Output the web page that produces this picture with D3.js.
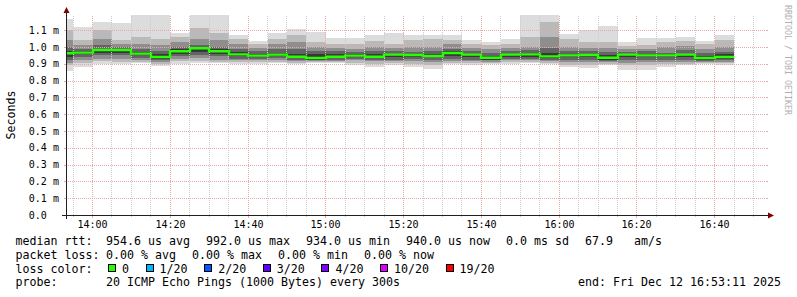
<!DOCTYPE html>
<html>
<head>
<meta charset="utf-8">
<script src="https://cdn.jsdelivr.net/npm/d3@7"></script>
<style>
    body { margin: 0; background: #ffffff; }
    svg { display: block; font-family: "DejaVu Sans Mono", monospace; font-size: 11.63px; }
</style>
</head>
<body>
<svg id="smoke"></svg>
<script>
// time frame of the graph, one value every 5 minutes
let startTime = new Date(2025, 11, 12, 13, 53, 11);
let endTime = new Date(2025, 11, 12, 16, 53, 11);
let firstStepEnd = new Date(2025, 11, 12, 13, 55, 0);
let stepMinutes = 5;

// median rtt per step (ms)
let medianRtt = [0.962, 0.966, 0.982, 0.982, 0.960, 0.940, 0.974, 0.992, 0.974, 0.956, 0.948, 0.954,
    0.942, 0.934, 0.942, 0.948, 0.942, 0.954, 0.952, 0.946, 0.964, 0.954, 0.936, 0.954,
    0.956, 0.944, 0.950, 0.952, 0.936, 0.954, 0.950, 0.950, 0.954, 0.934, 0.940];

// sorted pings per step (ms), lowest to highest
let ping1 = [0.857, 0.879, 0.899, 0.897, 0.903, 0.887, 0.897, 0.903, 0.903, 0.897, 0.897, 0.903,
    0.897, 0.903, 0.903, 0.891, 0.883, 0.895, 0.883, 0.871, 0.897, 0.891, 0.897, 0.897,
    0.903, 0.897, 0.879, 0.875, 0.891, 0.863, 0.863, 0.883, 0.891, 0.897, 0.891];
let ping3 = [0.893, 0.905, 0.915, 0.910, 0.910, 0.900, 0.915, 0.915, 0.910, 0.910, 0.910, 0.910,
    0.905, 0.910, 0.910, 0.905, 0.900, 0.905, 0.900, 0.895, 0.905, 0.905, 0.905, 0.910,
    0.910, 0.905, 0.895, 0.895, 0.900, 0.890, 0.895, 0.900, 0.900, 0.905, 0.905];
let ping5 = [0.905, 0.925, 0.930, 0.930, 0.920, 0.910, 0.930, 0.935, 0.925, 0.920, 0.920, 0.925,
    0.915, 0.915, 0.915, 0.920, 0.915, 0.915, 0.915, 0.910, 0.915, 0.915, 0.912, 0.920,
    0.920, 0.915, 0.910, 0.910, 0.910, 0.905, 0.910, 0.910, 0.910, 0.912, 0.912];
let ping7 = [0.923, 0.940, 0.950, 0.950, 0.935, 0.920, 0.945, 0.950, 0.945, 0.930, 0.930, 0.935,
    0.925, 0.920, 0.925, 0.930, 0.925, 0.925, 0.930, 0.925, 0.930, 0.925, 0.920, 0.930,
    0.930, 0.925, 0.925, 0.925, 0.915, 0.925, 0.925, 0.925, 0.925, 0.918, 0.920];
let ping9 = [0.940, 0.955, 0.965, 0.965, 0.950, 0.930, 0.960, 0.970, 0.960, 0.945, 0.940, 0.945,
    0.935, 0.925, 0.935, 0.940, 0.935, 0.940, 0.940, 0.940, 0.945, 0.940, 0.925, 0.940,
    0.940, 0.935, 0.940, 0.940, 0.925, 0.940, 0.940, 0.940, 0.940, 0.925, 0.930];
let ping12 = [0.976, 0.975, 0.990, 0.990, 0.970, 0.955, 0.985, 0.998, 0.985, 0.970, 0.960, 0.965,
    0.960, 0.955, 0.955, 0.955, 0.955, 0.960, 0.960, 0.955, 0.975, 0.960, 0.945, 0.960,
    0.965, 0.965, 0.960, 0.960, 0.950, 0.960, 0.960, 0.955, 0.960, 0.945, 0.955];
let ping14 = [1.000, 0.990, 1.010, 1.000, 0.990, 0.975, 1.000, 1.010, 1.000, 0.990, 0.975, 0.990,
    0.990, 0.975, 0.975, 0.970, 0.975, 0.975, 0.970, 0.975, 0.990, 0.975, 0.965, 0.975,
    0.980, 0.995, 0.975, 0.975, 0.970, 0.970, 0.975, 0.965, 0.980, 0.965, 0.970];
let ping16 = [1.040, 1.010, 1.050, 1.015, 1.020, 1.010, 1.030, 1.050, 1.040, 1.020, 0.995, 1.020,
    1.030, 1.000, 0.995, 0.990, 1.000, 0.995, 1.000, 1.000, 1.020, 0.995, 0.990, 0.995,
    1.000, 1.060, 1.000, 0.995, 0.995, 0.985, 0.990, 1.000, 1.005, 0.990, 1.000];
let ping18 = [1.100, 1.040, 1.100, 1.040, 1.060, 1.050, 1.060, 1.110, 1.080, 1.045, 1.015, 1.050,
    1.070, 1.030, 1.020, 1.020, 1.035, 1.020, 1.040, 1.050, 1.040, 1.020, 1.010, 1.020,
    1.060, 1.150, 1.050, 1.030, 1.030, 1.005, 1.010, 1.030, 1.035, 1.015, 1.040];
let ping20 = [1.165, 1.121, 1.149, 1.143, 1.190, 1.190, 1.085, 1.190, 1.190, 1.073, 1.036, 1.085,
    1.107, 1.087, 1.056, 1.056, 1.073, 1.081, 1.071, 1.069, 1.073, 1.042, 1.032, 1.050,
    1.190, 1.190, 1.077, 1.101, 1.125, 1.030, 1.054, 1.054, 1.060, 1.036, 1.071];

let yTicks = [0, 0.1, 0.2, 0.3, 0.4, 0.5, 0.6, 0.7, 0.8, 0.9, 1.0, 1.1];

let rttStats = ["954.6 us avg", "992.0 us max", "934.0 us min", "940.0 us now", "0.0 ms sd", "67.9   am/s"];
let lossStats = ["0.00 % avg", "0.00 % max", "0.00 % min", "0.00 % now"];
let lossLabels = ["0", "1/20", "2/20", "3/20", "4/20", "10/20", "19/20"];
let lossColors = ["#26ff00", "#00b8ff", "#0059ff", "#5e00ff", "#7e00ff", "#dd00ff", "#ff0000"];
let probeText = "20 ICMP Echo Pings (1000 Bytes) every 300s";
let endText = "end: Fri Dec 12 16:53:11 2025";

let W = 797, H = 297;
let X0 = 66, Y0 = 215, xsize = 700, ysize = 200;
let yMax = 1.19;
let cw = 7.0; // legend char width

let gridColor = "#cccccc";
let mgridColor = "#eaa9a9";
let arrowColor = "#7f0000";
let axisColor = "#202020";

let svg = d3.select("#smoke").attr("width", W).attr("height", H);
svg.append("rect").attr("width", W).attr("height", H).attr("fill", "#ffffff");

let x = d3.scaleTime().domain([startTime, endTime]).range([X0, X0 + xsize]);
let y = d3.scaleLinear().domain([0, yMax]).range([Y0, Y0 - ysize]);

function stepEnd(i) {
    return d3.timeMinute.offset(firstStepEnd, i * stepMinutes);
}

function stepStart(i) {
    return d3.timeMinute.offset(firstStepEnd, (i - 1) * stepMinutes);
}

drawSmoke();
drawGrid();
drawMedian();
drawAxes();
drawLegend();

function drawSmoke() {
    svg.append("clipPath").attr("id", "plotclip")
        .append("rect")
        .attr("x", X0).attr("y", Y0 - ysize)
        .attr("width", xsize).attr("height", ysize);

    // outer pair first, darker towards the median
    let layers = [
        [ping1, ping20, "#dcdcdc"],
        [ping3, ping18, "#b9b9b9"],
        [ping5, ping16, "#8e8e8e"],
        [ping7, ping14, "#646464"],
        [ping9, ping12, "#383838"]
    ];
    let g = svg.append("g").attr("clip-path", "url(#plotclip)");
    layers.forEach(function (layer) {
        let lo = layer[0], hi = layer[1];
        g.append("g").selectAll("rect")
            .data(medianRtt.map(function (d, i) { return i; }))
            .enter()
            .append("rect")
            .attr("x", function (i) { return Math.round(x(stepStart(i))); })
            .attr("width", function (i) { return Math.round(x(stepEnd(i))) - Math.round(x(stepStart(i))); })
            .attr("y", function (i) { return Math.round(y(Math.min(hi[i], yMax))); })
            .attr("height", function (i) { return Math.round(y(lo[i])) - Math.round(y(Math.min(hi[i], yMax))); })
            .attr("fill", layer[2])
            .attr("shape-rendering", "crispEdges");
    });
}

function drawGrid() {
    let g = svg.append("g").attr("shape-rendering", "crispEdges");
    let minorTicks = x.ticks(d3.timeMinute.every(5));
    minorTicks.forEach(function (t) {
        let major = t.getMinutes() % 20 === 0;
        let px = Math.floor(x(t)) + 0.5;
        g.append("line")
            .attr("x1", px).attr("x2", px)
            .attr("y1", Y0).attr("y2", Y0 - ysize)
            .attr("stroke", major ? mgridColor : gridColor)
            .attr("stroke-dasharray", "1,1");
        g.append("line")
            .attr("x1", px).attr("x2", px)
            .attr("y1", Y0).attr("y2", Y0 + (major ? 3 : 2))
            .attr("stroke", major ? mgridColor : gridColor);
    });
    yTicks.forEach(function (v) {
        if (v === 0) return;
        let py = Math.round(y(v)) + 0.5;
        g.append("line")
            .attr("x1", X0).attr("x2", X0 + xsize)
            .attr("y1", py).attr("y2", py)
            .attr("stroke", mgridColor)
            .attr("stroke-dasharray", "1,1");
        g.append("line")
            .attr("x1", X0 - 2).attr("x2", X0)
            .attr("y1", py).attr("y2", py)
            .attr("stroke", mgridColor);
        g.append("line")
            .attr("x1", X0 + xsize).attr("x2", X0 + xsize + 2)
            .attr("y1", py).attr("y2", py)
            .attr("stroke", mgridColor);
    });
}

function drawMedian() {
    let pts = medianRtt.map(function (m, i) {
        return {t: i === 0 ? startTime : stepStart(i), v: m};
    });
    pts.push({t: stepEnd(medianRtt.length - 1), v: medianRtt[medianRtt.length - 1]});
    let line = d3.line()
        .x(function (d) { return Math.round(x(d.t)); })
        .y(function (d) { return y(d.v); })
        .curve(d3.curveStepAfter);
    svg.append("path")
        .attr("d", line(pts))
        .attr("fill", "none")
        .attr("stroke", lossColors[0])
        .attr("stroke-width", 2.4);
}

function drawAxes() {
    // x axis + arrow
    svg.append("line")
        .attr("x1", X0 - 4).attr("x2", X0 + xsize + 4)
        .attr("y1", Y0 + 0.5).attr("y2", Y0 + 0.5)
        .attr("stroke", axisColor)
        .attr("shape-rendering", "crispEdges");
    svg.append("path")
        .attr("d", "M" + (X0 + xsize + 2) + "," + (Y0 - 2.5) + "L" + (X0 + xsize + 8) + "," + (Y0 + 0.5) +
            "L" + (X0 + xsize + 2) + "," + (Y0 + 3.5) + "Z")
        .attr("fill", arrowColor);

    // y axis + arrow
    svg.append("line")
        .attr("x1", X0 + 0.5).attr("x2", X0 + 0.5)
        .attr("y1", Y0 + 4).attr("y2", Y0 - ysize - 4)
        .attr("stroke", axisColor)
        .attr("shape-rendering", "crispEdges");
    svg.append("path")
        .attr("d", "M" + (X0 - 2.5) + "," + (Y0 - ysize - 2) + "L" + (X0 + 0.5) + "," + (Y0 - ysize - 8) +
            "L" + (X0 + 3.5) + "," + (Y0 - ysize - 2) + "Z")
        .attr("fill", arrowColor);

    // tick labels
    svg.append("g").selectAll("text")
        .data(yTicks)
        .enter()
        .append("text")
        .attr("x", 28.8)
        .attr("y", function (d) { return y(d) + 3.7; })
        .style("font-size", "10px")
        .text(function (d) { return d === 0 ? "0.0" : d3.format(".1f")(d) + " m"; });

    let fmt = d3.timeFormat("%H:%M");
    svg.append("g").selectAll("text")
        .data(x.ticks(d3.timeMinute.every(20)))
        .enter()
        .append("text")
        .attr("x", function (d) { return Math.floor(x(d)) + 0.5; })
        .attr("y", 228.3)
        .attr("text-anchor", "middle")
        .style("font-size", "10px")
        .text(function (d) { return fmt(d); });

    svg.append("text")
        .attr("transform", "translate(15.3," + (Y0 - ysize / 2) + ") rotate(-90)")
        .attr("text-anchor", "middle")
        .text("Seconds");

    svg.append("text")
        .attr("transform", "translate(785,5) rotate(90)")
        .style("font-size", "8.3px")
        .attr("fill", "#b0b0b0")
        .text("RRDTOOL / TOBI OETIKER");
}

function legendRow(label, items, yy) {
    svg.append("text").attr("x", 15.5).attr("y", yy).text(label);
    let px = 106;
    items.forEach(function (s) {
        svg.append("text").attr("x", px).attr("y", yy).style("white-space", "pre").text(s);
        px += s.length * cw + 16;
    });
}

function drawLegend() {
    legendRow("median rtt:", rttStats, 245);
    legendRow("packet loss:", lossStats, 258.8);

    svg.append("text").attr("x", 15.5).attr("y", 272.6).text("loss color:");
    let bx = 108;
    lossLabels.forEach(function (lab, i) {
        svg.append("rect")
            .attr("x", bx + 0.5).attr("y", 264.5)
            .attr("width", 7).attr("height", 7)
            .attr("fill", lossColors[i])
            .attr("stroke", "#000000")
            .attr("shape-rendering", "crispEdges");
        svg.append("text").attr("x", bx + 14).attr("y", 272.6).text(lab);
        bx = bx + 14 + lab.length * cw + 16.6;
    });

    svg.append("text").attr("x", 15.5).attr("y", 286.4).text("probe:");
    svg.append("text").attr("x", 106).attr("y", 286.4).text(probeText);
    svg.append("text").attr("x", 781).attr("y", 286.4).attr("text-anchor", "end").text(endText);
}
</script>
</body>
</html>
